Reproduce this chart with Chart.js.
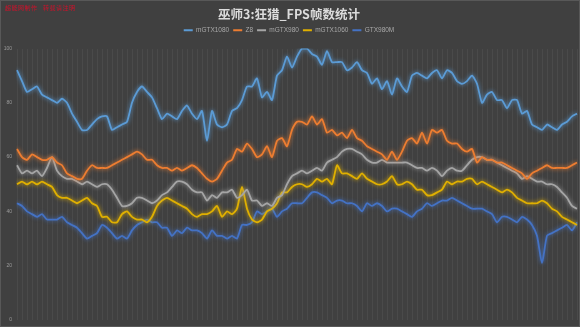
<!DOCTYPE html>
<html>
<head>
<meta charset="utf-8">
<script src="https://cdn.jsdelivr.net/npm/chart.js@4/dist/chart.umd.min.js"></script>
<style>
  html, body { margin: 0; padding: 0; background: #404040; }
  #wrap { position: relative; width: 580px; height: 327px; box-sizing: border-box; border: 1px solid #585858; overflow: hidden; }
  canvas { position: absolute; left: 0; top: 0; }
  #mark { position: absolute; left: 4px; top: 2px; color: #d0102a; font: 6px "Noto Sans CJK SC", sans-serif; letter-spacing: 0.5px; }
</style>
</head>
<body>
<div id="wrap">
  <canvas id="c" width="580" height="327"></canvas>
  <div id="mark">超能网制作&nbsp;&nbsp;&nbsp;转载请注明</div>
</div>
<script>
const seriesNames = ["mGTX1080", "Z8", "mGTX980", "mGTX1060", "GTX980M"];

const mGTX1080 = [92,88,84,85,86,83,82,81,80,81.5,80,76,73,70,70,72,74,75,75,70,71,72,73,80,84,86,84,82,78,74,76,75,74,77,79,76,74,77,66,77,72,71,72,77,78,81,86,86,89,82,84,81,90,92,97,93,97,100,100,98,97,94,99,95,95,95,92,93,95,92,91,87,89,85,88,83,89,86,84,90,91,90,89,91,92,89,92,91,88,87,88,90,87,80,83,84,81,81,78,81,81,76,77,72,71,70,72,71,70,72,73,75,76];

const Z8 = [63,60,59,61,60,59,59,60,58,57,54,53,52,52,55,57,56,56,56,57,58,59,60,61,62,61,59,59,57,56,56,55,56,55,56,57,56,54,52,51,52,55,58,59,63,62,65,63,60,61,64,60,66,67,64,70,73,73,72,75,72,74,69,70,68,69,67,70,67,66,64,63,62,61,59,62,59,62,66,67,65,69,65,70,69,70,66,65,65,63,62,63,58,60,59,59,58,58,57,56,55,54,52,54,55,56,57,56,56,56,56,57,58];

const mGTX980 = [57,54,55,54,55,53,56,60,55,53,52,52,51,50,51,50,49,50,50,48,45,42,42,43,45,45,44,43,44,46,47,49,51,51,50,48,47,47,44,46,45,47,47,48,45,46,48,44,44,42,43,42,45,46,50,53,54,55,54,55,56,55,58,59,60,62,63,63,62,61,59,58,58,59,58,58,58,58,58,57,56,56,55,56,55,53,55,56,55,55,57,59,60,60,59,59,58,57,56,55,54,52,53,52,51,51,50,50,49,47,45,42,41];

const mGTX1060 = [50,51,50,51,50,51,50,49,46,45,45,44,43,44,45,43,42,38,38,36,36,39,40,38,37,37,36,38,42,44,45,44,43,42,41,39,38,39,39,40,42,38,40,39,41,49,41,37,36,37,40,41,43,47,47,49,50,50,49,50,52,51,52,50,57,54,54,53,52,54,52,51,50,50,51,53,50,50,51,50,48,48,46,46,47,48,51,50,51,51,52,52,50,51,50,49,48,47,48,47,45,44,43,43,43,44,43,41,40,38,37,36,35];

const GTX980M = [43,42,40,39,38,39,37,37,37,38,36,35,34,32,30,31,32,35,34,32,30,31,30,33,35,36,37,36,36,34,34,31,33,32,34,33,33,32,30,33,31,31,30,31,30,35,35,36,40,39,40,41,38,40,41,43,43,43,45,47,47,46,45,43,44,44,43,43,42,40,43,42,43,42,40,41,41,40,39,38,40,41,43,42,43,44,44,45,44,43,42,41,41,41,40,39,36,38,38,37,36,38,37,35,31,21,31,32,33,34,35,33,36];

const categories = mGTX1080.map((_, i) => String(i + 1));
const yTicks = [0, 20, 40, 60, 80, 100];

const colors = ["#5B9BD5", "#ED7D31", "#A5A5A5", "#E0B000", "#4472C4"];
const values = [mGTX1080, Z8, mGTX980, mGTX1060, GTX980M];

const glow = {
  id: 'glow',
  beforeDatasetDraw(chart, args) {
    const ctx = chart.ctx;
    ctx.save();
    ctx.shadowColor = chart.data.datasets[args.index].borderColor;
    ctx.shadowBlur = 4;
  },
  afterDatasetDraw(chart) { chart.ctx.restore(); }
};

new Chart(document.getElementById('c'), {
  type: 'line',
  data: {
    labels: categories,
    datasets: seriesNames.map((n, k) => ({
      label: n,
      data: values[k],
      borderColor: colors[k],
      backgroundColor: colors[k],
      borderWidth: 1.8,
      pointRadius: 0,
      tension: 0.2,
      fill: false
    }))
  },
  options: {
    responsive: false,
    animation: false,
    layout: { padding: { left: 0, right: 4, top: 0, bottom: 0 } },
    plugins: {
      title: {
        display: true,
        text: '巫师3:狂猎_FPS帧数统计',
        color: '#dcdcdc',
        font: { family: '"Noto Sans CJK SC", serif', size: 12.5, weight: 'bold' },
        padding: { top: 6, bottom: 1 }
      },
      legend: {
        display: true,
        labels: {
          color: '#a8a8a8',
          font: { family: 'Arial, "Liberation Sans", sans-serif', size: 6.5 },
          usePointStyle: true,
          pointStyle: 'line',
          pointStyleWidth: 9,
          boxHeight: 6,
          padding: 4
        }
      },
      tooltip: { enabled: false }
    },
    scales: {
      x: {
        position: 'top',
        ticks: { display: false },
        grid: { display: true, color: '#4a4a4a', lineWidth: 1, drawTicks: false },
        border: { display: false },
        afterFit(s) { s.height = 5; }
      },
      y: {
        min: 0, max: 100,
        afterBuildTicks(s) { s.ticks = yTicks.map(v => ({ value: v })); },
        ticks: { color: '#9a9a9a', font: { size: 5 }, padding: 5 },
        grid: { display: false, drawTicks: false },
        border: { display: false },
        afterFit(s) { s.width = 16; }
      }
    }
  },
  plugins: [glow]
});
</script>
</body>
</html>
